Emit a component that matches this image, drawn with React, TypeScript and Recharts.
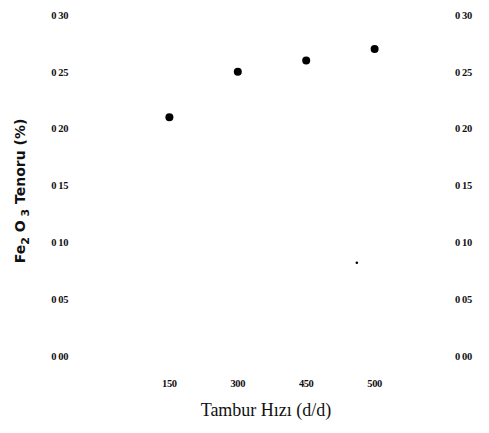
import { ScatterChart, Scatter, XAxis, YAxis, Label } from 'recharts'

const speedLabels = ['150', '300', '450', '500']
const speedIndex = [1, 2, 3, 4]
const fe2o3Values = [0.21, 0.25, 0.26, 0.27]
const yTicks = [0, 0.05, 0.1, 0.15, 0.2, 0.25, 0.3]
const yTickLabels = ['0 00', '0 05', '0 10', '0 15', '0 20', '0 25', '0 30']
// small stray mark visible in the scan
const strayIndex = [3.74]
const strayValues = [0.082]

const mainData = speedIndex.map((x, i) => ({ x, y: fe2o3Values[i] }))
const strayData = strayIndex.map((x, i) => ({ x, y: strayValues[i] }))

const tickStyle = { fill: '#111', fontSize: 10.5, fontFamily: 'Liberation Serif', fontWeight: 700, letterSpacing: -0.4 }

const yFmt = (v: number) => {
  const i = yTicks.findIndex(t => Math.abs(t - v) < 1e-6)
  return i >= 0 ? yTickLabels[i] : ''
}
const xFmt = (v: number) => speedLabels[speedIndex.indexOf(v)] ?? ''

function YTitle() {
  return (
    <text
      transform="translate(25,191) rotate(-90)"
      textAnchor="middle"
      style={{ fontFamily: 'DejaVu Sans', fontWeight: 700, fontSize: 14, fill: '#111' }}
    >
      Fe<tspan dy={4} fontSize={11}>2</tspan>
      <tspan dy={-4}> O</tspan>
      <tspan dy={4} fontSize={11}> 3</tspan>
      <tspan dy={-4}> Tenoru (%)</tspan>
    </text>
  )
}

export default function App() {
  return (
    <div style={{ position: 'absolute', left: 0, top: 0, background: '#fff' }}>
      <ScatterChart width={489} height={433} margin={{ top: 15, right: 0, bottom: 0, left: 0 }}>
        <XAxis
          type="number"
          dataKey="x"
          domain={[0, 5]}
          ticks={speedIndex}
          tickFormatter={xFmt}
          axisLine={false}
          tickLine={false}
          tickMargin={18}
          height={77}
          tick={tickStyle}
        >
          <Label
            value="Tambur Hızı (d/d)"
            position="insideBottom"
            offset={17}
            dx={-6}
            style={{ fontFamily: 'Liberation Serif', fontSize: 18, fill: '#111' }}
          />
        </XAxis>
        <YAxis
          yAxisId="left"
          type="number"
          dataKey="y"
          domain={[0, 0.3]}
          ticks={yTicks}
          tickFormatter={yFmt}
          axisLine={false}
          tickLine={false}
          tickMargin={27}
          width={101}
          tick={tickStyle}
        />
        <YAxis
          yAxisId="right"
          orientation="right"
          type="number"
          dataKey="y"
          domain={[0, 0.3]}
          ticks={yTicks}
          tickFormatter={yFmt}
          axisLine={false}
          tickLine={false}
          tickMargin={6}
          width={46}
          tick={{ ...tickStyle, textAnchor: 'start' }}
        />
        <Scatter
          yAxisId="left"
          data={mainData}
          isAnimationActive={false}
          shape={(p: any) => <circle cx={p.cx} cy={p.cy} r={4} fill="#000" />}
        />
        <Scatter
          yAxisId="left"
          data={strayData}
          isAnimationActive={false}
          shape={(p: any) => <circle cx={p.cx} cy={p.cy} r={1.3} fill="#000" />}
        />
        <Scatter
          yAxisId="right"
          data={mainData}
          isAnimationActive={false}
          shape={() => <g />}
        />
        <YTitle />
      </ScatterChart>
    </div>
  )
}
